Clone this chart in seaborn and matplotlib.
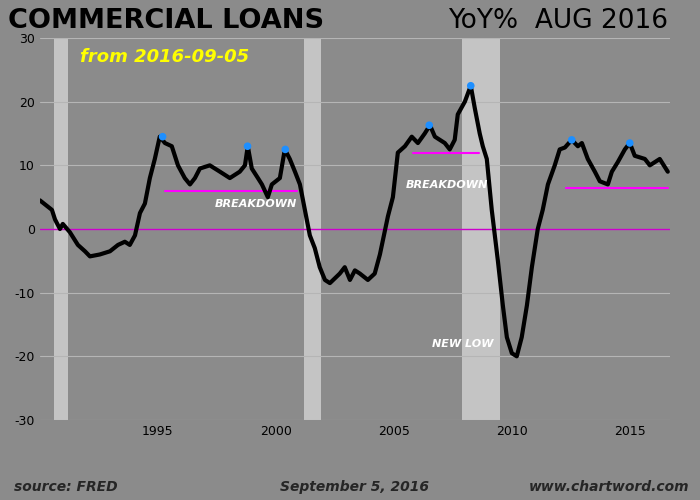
import matplotlib
matplotlib.use("Agg")
import matplotlib.pyplot as plt
import seaborn as sns
import pandas as pd

years = [1990.0,1990.34,1990.51,1990.64,1990.85,1990.97,1991.27,1991.61,1991.91,1992.12,1992.54,1992.97,1993.31,1993.60,1993.81,
         1994.03,1994.24,1994.45,1994.66,1994.87,1995.08,1995.30,1995.59,1995.85,1996.14,1996.36,1996.57,1996.78,1997.20,1997.63,
         1998.05,1998.47,1998.69,1998.81,1998.98,1999.24,1999.41,1999.66,1999.83,2000.17,2000.38,2000.59,2000.81,2001.02,2001.23,
         2001.44,2001.65,2001.86,2002.08,2002.29,2002.71,2002.92,2003.14,2003.35,2003.56,2003.90,2004.19,2004.41,2004.75,2004.96,
         2005.17,2005.47,2005.76,2006.02,2006.31,2006.53,2006.74,2007.16,2007.37,2007.58,2007.71,2008.01,2008.26,2008.43,2008.64,
         2008.77,2008.94,2009.15,2009.41,2009.62,2009.79,2010.0,2010.21,2010.42,2010.64,2010.85,2011.10,2011.31,2011.53,2011.82,
         2012.03,2012.25,2012.54,2012.80,2012.97,2013.22,2013.52,2013.73,2014.07,2014.24,2014.49,2014.79,2015.0,2015.21,2015.64,
         2015.85,2016.06,2016.27,2016.61]
yoy = [4.5,3.5,3,1.5,0,0.8,-0.5,-2.5,-3.5,-4.3,-4,-3.5,-2.5,-2,-2.5,
       -1,2.5,4,8,11,14.5,13.5,13,10,8,7,8,9.5,10,9,
       8,9,10,13,9.5,8,7,5,7,8,12.5,11,9,7,3,
       -1,-3,-6,-8,-8.5,-7,-6,-8,-6.5,-7,-8,-7,-4,2,5,
       12,13,14.5,13.5,15,16.3,14.5,13.5,12.5,14,18,20,22.5,19,15,
       13,11,3,-5,-12,-17,-19.5,-20,-17,-12,-6,0,3,7,10,
       12.5,12.8,14,13,13.5,11,9,7.5,7,9,10.5,12.5,13.5,11.5,11,
       10,10.5,11,9]
peak_years = [1995.2,1998.8,2000.4,2006.5,2008.26,2012.54,2015.0]
peak_vals = [14.5,13,12.5,16.3,22.5,14,13.5]
recessions = [(1990.6,1991.2),(2001.2,2001.9),(2007.9,2009.5)]
support_lines = [(1995.3,2000.9,6),(2005.8,2008.6,12),(2012.3,2016.6,6.5)]
xticks = [1995,2000,2005,2010,2015]
yticks = [-30,-20,-10,0,10,20,30]

bg = "#8b8b8b"
sns.set_theme(style="white")
plt.rcParams["axes.unicode_minus"] = False
fig = plt.figure(figsize=(7,5), dpi=100, facecolor=bg)
ax = fig.add_axes([0.057,0.16,0.9,0.764], facecolor=bg)
for a,b in recessions:
    ax.axvspan(a,b,color="#c4c4c4",zorder=0,lw=0)
for y in yticks:
    ax.axhline(y,color="#b5b5b5",lw=0.8,zorder=1)
ax.axhline(0,color="#cc00cc",lw=1,zorder=2)
for a,b,v in support_lines:
    ax.plot([a,b],[v,v],color="#ff00ff",lw=1.5,zorder=2)
df = pd.DataFrame({"year":years,"yoy":yoy})
sns.lineplot(data=df,x="year",y="yoy",color="black",lw=3,ax=ax,zorder=3)
sns.scatterplot(x=peak_years,y=peak_vals,color="#1e8fff",s=30,ax=ax,zorder=4,edgecolor="none")
ax.set_xlim(1990.0,2016.7); ax.set_ylim(-30,30)
ax.set_xticks(xticks); ax.set_yticks(yticks)
ax.tick_params(colors="black",labelsize=9,length=0)
ax.set_xlabel(""); ax.set_ylabel("")
for s in ax.spines.values(): s.set_visible(False)
kw = dict(color="white",fontsize=8,fontweight="bold",fontstyle="italic")
ax.text(1997.4,3.5,"BREAKDOWN",**kw)
ax.text(2005.5,6.5,"BREAKDOWN",**kw)
ax.text(2006.6,-18.5,"NEW LOW",**kw)
fig.text(0.012,0.945,"COMMERCIAL LOANS",fontsize=19.5,fontweight="bold",color="black")
fig.text(0.955,0.945,"YoY%  AUG 2016",fontsize=19,color="black",ha="right")
fig.text(0.115,0.875,"from 2016-09-05",fontsize=13,color="yellow",fontstyle="italic",fontweight="bold")
fig.text(0.02,0.018,"source: FRED",fontsize=10,fontweight="bold",fontstyle="italic")
fig.text(0.40,0.018,"September 5, 2016",fontsize=10,fontweight="bold",fontstyle="italic")
fig.text(0.985,0.018,"www.chartword.com",fontsize=10,fontweight="bold",fontstyle="italic",ha="right")
fig.savefig("out.png",dpi=100,facecolor=bg)
